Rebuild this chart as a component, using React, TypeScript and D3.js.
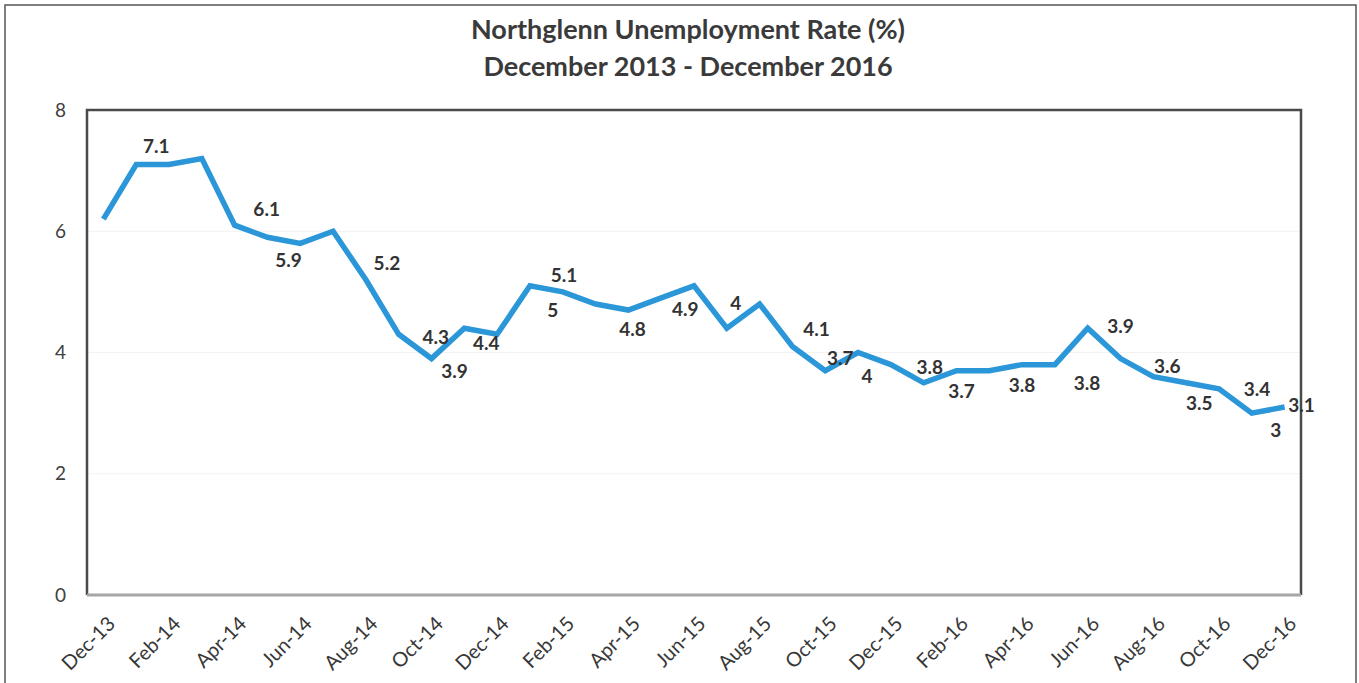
import React, { useEffect, useRef } from "react";
import * as d3 from "d3";

const months = [
  "Dec-13", "Jan-14", "Feb-14", "Mar-14", "Apr-14", "May-14", "Jun-14", "Jul-14", "Aug-14",
  "Sep-14", "Oct-14", "Nov-14", "Dec-14", "Jan-15", "Feb-15", "Mar-15", "Apr-15", "May-15",
  "Jun-15", "Jul-15", "Aug-15", "Sep-15", "Oct-15", "Nov-15", "Dec-15", "Jan-16", "Feb-16",
  "Mar-16", "Apr-16", "May-16", "Jun-16", "Jul-16", "Aug-16", "Sep-16", "Oct-16", "Nov-16", "Dec-16",
];

const rates = [
  6.2, 7.1, 7.1, 7.2, 6.1, 5.9, 5.8, 6.0, 5.2, 4.3, 3.9, 4.4, 4.3, 5.1, 5.0, 4.8, 4.7, 4.9,
  5.1, 4.4, 4.8, 4.1, 3.7, 4.0, 3.8, 3.5, 3.7, 3.7, 3.8, 3.8, 4.4, 3.9, 3.6, 3.5, 3.4, 3.0, 3.1,
];

const tickLabels = [
  "Dec-13", "Feb-14", "Apr-14", "Jun-14", "Aug-14", "Oct-14", "Dec-14", "Feb-15", "Apr-15", "Jun-15",
  "Aug-15", "Oct-15", "Dec-15", "Feb-16", "Apr-16", "Jun-16", "Aug-16", "Oct-16", "Dec-16",
];

const yTicks = [0, 2, 4, 6, 8];

// which points carry a data label, and the text shown
const labelIndex = [1, 4, 5, 8, 9, 10, 11, 13, 14, 15, 17, 19, 21, 22, 23, 24, 26, 28, 29, 31, 32, 33, 34, 35, 36];
const labelText = ["7.1", "6.1", "5.9", "5.2", "4.3", "3.9", "4.4", "5.1", "5", "4.8", "4.9", "4", "4.1", "3.7", "4", "3.8", "3.7", "3.8", "3.8", "3.9", "3.6", "3.5", "3.4", "3", "3.1"];

// label nudges relative to the point (px)
const labelOffset: [number, number][] = [
  [20, -18], [32, -16], [21, 23], [21, -16], [37, 3], [23, 13], [22, 15], [34, -10], [-10, 18],
  [37, 25], [24, 11], [9, -25], [24, -17], [15, -12], [9, 24], [39, 3], [5, 21], [0, 21], [32, 19],
  [0, -32], [14, -10], [13, 21], [38, 0], [24, 17], [17, -2],
];

const W = 1359;
const H = 683;
const FONT = "Lato, 'Open Sans', sans-serif";

export default function App() {
  const ref = useRef<SVGSVGElement | null>(null);

  useEffect(() => {
    const svg = d3.select(ref.current);
    svg.selectAll("*").remove();

    const left = 87, right = 1301, top = 110, bottom = 595;

    const x = d3.scaleBand<string>().domain(months).range([left, right]).padding(0);
    const cx = (m: string) => (x(m) as number) + x.bandwidth() / 2;
    const y = d3.scaleLinear().domain([0, 8]).range([bottom, top]);

    svg.append("rect").attr("width", W).attr("height", H).attr("fill", "#fff");
    svg.append("rect")
      .attr("x", 5).attr("y", 5).attr("width", W - 8).attr("height", H - 4)
      .attr("fill", "none").attr("stroke", "#555").attr("stroke-width", 1.5);

    // title
    const title = svg.append("g").attr("font-family", FONT).attr("font-weight", 700)
      .attr("fill", "#3a3a3a").attr("text-anchor", "middle").attr("font-size", 27);
    title.append("text").attr("x", 688).attr("y", 39).text("Northglenn Unemployment Rate (%)");
    title.append("text").attr("x", 688).attr("y", 76).text("December 2013 - December 2016");

    // faint gridlines
    svg.append("g").selectAll("line").data(yTicks.filter((t) => t > 0 && t < 8)).join("line")
      .attr("x1", left).attr("x2", right)
      .attr("y1", (d) => y(d)).attr("y2", (d) => y(d))
      .attr("stroke", "#f2f2f2").attr("stroke-width", 1);

    // frame
    svg.append("path")
      .attr("d", `M${left},${bottom} V${top} H${right} V${bottom}`)
      .attr("fill", "none").attr("stroke", "#4a4a4a").attr("stroke-width", 2.5);
    svg.append("line")
      .attr("x1", left).attr("x2", right).attr("y1", bottom).attr("y2", bottom)
      .attr("stroke", "#a6a6a6").attr("stroke-width", 3);

    // y axis labels
    svg.append("g").selectAll("text").data(yTicks).join("text")
      .attr("x", 66).attr("y", (d) => y(d))
      .attr("dy", "0.35em").attr("text-anchor", "end")
      .attr("font-family", FONT).attr("font-size", 19).attr("fill", "#404040")
      .text((d) => d);

    // x axis labels
    svg.append("g").selectAll("text").data(tickLabels).join("text")
      .attr("transform", (d) => `translate(${cx(d) + 13},${bottom + 30}) rotate(-45)`)
      .attr("text-anchor", "end")
      .attr("font-family", FONT).attr("font-size", 20).attr("fill", "#383838")
      .text((d) => d);

    // line
    const line = d3.line<number>()
      .x((_, i) => cx(months[i]))
      .y((d) => y(d));
    svg.append("path").datum(rates)
      .attr("d", line)
      .attr("fill", "none").attr("stroke", "#2b97d9").attr("stroke-width", 5.5)
      .attr("stroke-linejoin", "miter");

    // data labels
    svg.append("g").selectAll("text").data(labelIndex).join("text")
      .attr("x", (d, k) => cx(months[d]) + labelOffset[k][0])
      .attr("y", (d, k) => y(rates[d]) + labelOffset[k][1])
      .attr("dy", "0.35em").attr("text-anchor", "middle")
      .attr("font-family", FONT).attr("font-weight", 700).attr("font-size", 19)
      .attr("fill", "#333").text((_, k) => labelText[k]);
  }, []);

  return (
    <svg ref={ref} width={W} height={H}
      style={{ position: "absolute", left: 0, top: 0, display: "block" }} />
  );
}
